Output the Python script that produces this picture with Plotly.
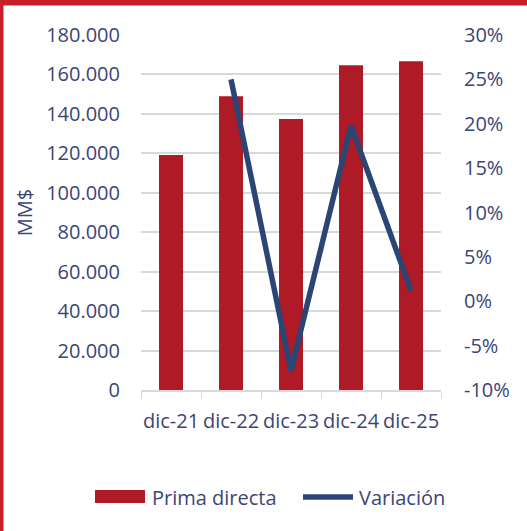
import plotly.graph_objects as go

categories = ["dic-21", "dic-22", "dic-23", "dic-24", "dic-25"]
prima_directa = [119200, 149000, 137400, 164600, 166700]
variacion = [None, 0.250, -0.078, 0.198, 0.012]
left_ticks = [0, 20000, 40000, 60000, 80000, 100000, 120000, 140000, 160000, 180000]
right_ticks = [-0.10, -0.05, 0.0, 0.05, 0.10, 0.15, 0.20, 0.25, 0.30]
right_labels = ["-10%", "-5%", "0%", "5%", "10%", "15%", "20%", "25%", "30%"]

W, H = 527, 531
L, R, T, B = 141, 441, 35, 390
txt = "#3B4677"
bar_color = "#AE1A26"
line_color = "#2B4575"
font = "Open Sans, Noto Sans, sans-serif"
fs = 20

fig = go.Figure()
fig.add_trace(go.Bar(x=categories, y=prima_directa, name="Prima directa",
                     marker=dict(color=bar_color, line=dict(width=0)), width=0.4,
                     showlegend=False))
fig.add_trace(go.Scatter(x=categories, y=variacion, name="Variación", yaxis="y2",
                         mode="lines", line=dict(color=line_color, width=5.5),
                         showlegend=False))

def px2x(p):
    return (p - L) / (R - L)

def py2y(p):
    return (B - p) / (B - T)

red = "#C8202A"
shapes = [
    dict(type="rect", xref="paper", yref="paper", x0=px2x(0), x1=px2x(3.5),
         y0=py2y(H), y1=py2y(0), fillcolor=red, line=dict(width=0), layer="above"),
    dict(type="rect", xref="paper", yref="paper", x0=px2x(0), x1=px2x(W),
         y0=py2y(5.5), y1=py2y(0), fillcolor=red, line=dict(width=0), layer="above"),
    # legend swatches
    dict(type="rect", xref="paper", yref="paper", x0=px2x(95), x1=px2x(145),
         y0=py2y(503), y1=py2y(490), fillcolor=bar_color, line=dict(width=0)),
    dict(type="line", xref="paper", yref="paper", x0=px2x(303), x1=px2x(353),
         y0=py2y(497), y1=py2y(497), line=dict(color=line_color, width=5.5)),
]
annotations = [
    dict(xref="paper", yref="paper", x=px2x(150), y=py2y(497), xanchor="left", yanchor="middle",
         text=fig.data[0].name, showarrow=False, font=dict(size=fs, color=txt)),
    dict(xref="paper", yref="paper", x=px2x(357), y=py2y(497), xanchor="left", yanchor="middle",
         text=fig.data[1].name, showarrow=False, font=dict(size=fs, color=txt)),
]

fig.update_layout(
    width=W, height=H,
    margin=dict(l=L, r=W - R, t=T, b=H - B, autoexpand=False),
    paper_bgcolor="white", plot_bgcolor="white",
    separators=",.",
    font=dict(family=font, size=fs, color=txt),
    showlegend=False,
    xaxis=dict(type="category", showline=True, linecolor="#D9D9D9", linewidth=1.5,
               ticks="outside", tickson="boundaries", ticklen=7, tickcolor="#D9D9D9",
               showgrid=False, tickangle=0, ticklabelstandoff=12,
               tickfont=dict(size=20, color=txt)),
    yaxis=dict(range=[0, 180000], tickvals=left_ticks, tickformat=",.0f",
               showgrid=True, gridcolor="#D9D9D9", gridwidth=1.5, zeroline=False,
               ticklabelstandoff=20, tickfont=dict(size=fs, color=txt),
               title=dict(text="MM$", font=dict(size=fs, color=txt), standoff=8)),
    yaxis2=dict(range=[-0.10, 0.30], overlaying="y", side="right", tickvals=right_ticks,
                ticktext=right_labels, showgrid=False, zeroline=False,
                ticklabelstandoff=22, tickfont=dict(size=fs, color=txt)),
    shapes=shapes,
    annotations=annotations,
)

fig.write_html("out.html", config={"displayModeBar": False},
               post_script="document.body.style.margin='0';")
